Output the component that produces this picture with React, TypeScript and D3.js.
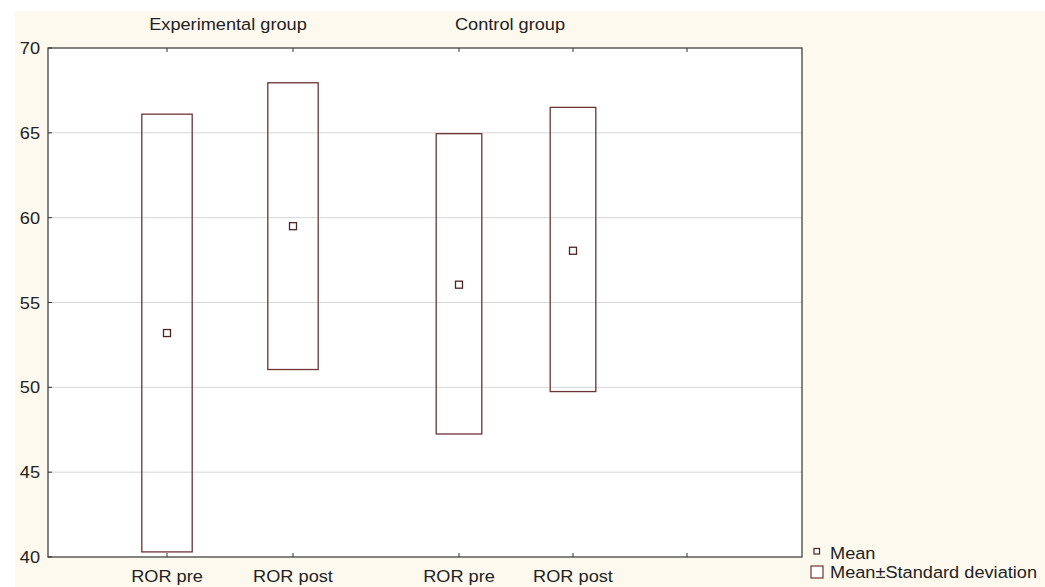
import React from "react";
import * as d3 from "d3";

// ---- data ----
const groups = ["Experimental group", "Control group"];
const categories = ["ROR pre", "ROR post"];
const meanValues = [
  [53.2, 59.5],
  [56.05, 58.05],
];
const upperValues = [
  [66.1, 67.95],
  [64.95, 66.5],
];
const lowerValues = [
  [40.3, 51.05],
  [47.25, 49.75],
];
const yTicks = [40, 45, 50, 55, 60, 65, 70];

// ---- layout ----
const W = 1045;
const H = 587;
const plot = { left: 48, top: 48, right: 802, bottom: 557 };
// per-panel x layout (position index -> pixel)
const panels = [
  { domain: [1, 2], range: [167, 293], ticks: [1, 2], header: 228 },
  { domain: [1, 3], range: [459, 687], ticks: [1, 2, 3], header: 510 },
];
const font = "'Liberation Sans', Arial, sans-serif";
const boxColor = "#6e3434";
const meanColor = "#4e2424";

export default function App() {
  const y = d3.scaleLinear().domain([40, 70]).range([plot.bottom, plot.top]);
  const fs = 17;
  const sx = 1.07;

  const T = (props: any) => {
    const { x, yy, anchor, children, ...rest } = props;
    return (
      <text
        transform={`translate(${x},${yy}) scale(${sx},1)`}
        textAnchor={anchor || "start"}
        fontFamily={font}
        fontSize={fs}
        fill="#222"
        {...rest}
      >
        {children}
      </text>
    );
  };

  return (
    <svg width={W} height={H} style={{ position: "absolute", left: 0, top: 0 }}>
      <rect x={0} y={0} width={W} height={H} fill="#ffffff" />
      <rect x={15} y={11} width={W - 15} height={H - 11} fill="#fef9ee" />
      <rect
        x={plot.left}
        y={plot.top}
        width={plot.right - plot.left}
        height={plot.bottom - plot.top}
        fill="#ffffff"
      />
      {/* gridlines */}
      {yTicks
        .filter((t) => t > 40 && t < 70)
        .map((t) => (
          <line
            key={"g" + t}
            x1={plot.left}
            x2={plot.right}
            y1={y(t)}
            y2={y(t)}
            stroke="#d6d6d6"
            strokeWidth={1}
          />
        ))}
      {/* y ticks and labels */}
      {yTicks.map((t) => (
        <g key={"yt" + t}>
          <line x1={plot.left} x2={plot.left + 4} y1={y(t)} y2={y(t)} stroke="#333" />
          <T x={40} yy={y(t) + 6} anchor="end">
            {t}
          </T>
        </g>
      ))}
      {/* panels */}
      {panels.map((p, gi) => {
        const x = d3.scaleLinear().domain(p.domain).range(p.range);
        const unit = x(2) - x(1);
        const bw = unit * 0.4;
        return (
          <g key={"p" + gi}>
            {p.ticks.map((t) => (
              <g key={"xt" + t}>
                <line x1={x(t)} x2={x(t)} y1={plot.top} y2={plot.top + 4} stroke="#333" />
                <line x1={x(t)} x2={x(t)} y1={plot.bottom} y2={plot.bottom - 4} stroke="#333" />
              </g>
            ))}
            {categories.map((c, ci) => {
              const cx = x(ci + 1);
              return (
                <g key={"c" + ci}>
                  <rect
                    x={cx - bw / 2}
                    y={y(upperValues[gi][ci])}
                    width={bw}
                    height={y(lowerValues[gi][ci]) - y(upperValues[gi][ci])}
                    fill="none"
                    stroke={boxColor}
                    strokeWidth={1.3}
                  />
                  <rect
                    x={cx - 3.5}
                    y={y(meanValues[gi][ci]) - 3.5}
                    width={7}
                    height={7}
                    fill="#fff"
                    stroke={meanColor}
                    strokeWidth={1.3}
                  />
                  <T x={cx} yy={582} anchor="middle">
                    {c}
                  </T>
                </g>
              );
            })}
            <T x={p.header} yy={30} anchor="middle">
              {groups[gi]}
            </T>
          </g>
        );
      })}
      {/* frame */}
      <rect
        x={plot.left}
        y={plot.top}
        width={plot.right - plot.left}
        height={plot.bottom - plot.top}
        fill="none"
        stroke="#333"
        strokeWidth={1.2}
      />
      {/* legend */}
      <rect x={814} y={548.5} width={5.5} height={5.5} fill="#fff" stroke={meanColor} strokeWidth={1.2} />
      <T x={830} yy={559}>
        Mean
      </T>
      <rect x={811} y={566} width={12} height={12} fill="#fff" stroke={boxColor} strokeWidth={1.2} />
      <T x={830} yy={578}>
        Mean±Standard deviation
      </T>
    </svg>
  );
}
